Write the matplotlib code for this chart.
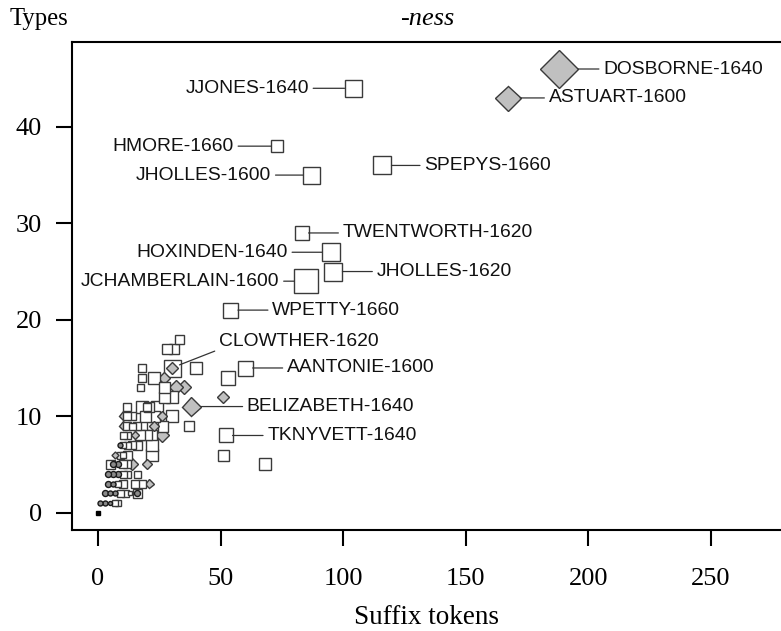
import numpy as np
import matplotlib
matplotlib.use("Agg")
import matplotlib.pyplot as plt

# labelled texts: suffix tokens, types, marker kind, marker width (px in source)
names = ["DOSBORNE-1640", "ASTUART-1600", "JJONES-1640", "HMORE-1660",
         "JHOLLES-1600", "SPEPYS-1660", "TWENTWORTH-1620", "HOXINDEN-1640",
         "JHOLLES-1620", "JCHAMBERLAIN-1600", "WPETTY-1660", "CLOWTHER-1620",
         "AANTONIE-1600", "BELIZABETH-1640", "TKNYVETT-1640"]
lab_tokens = [188, 167, 104, 73, 87, 116, 83, 95, 96, 85, 54, 30, 60, 38, 52]
lab_types = [46, 43, 44, 38, 35, 36, 29, 27, 25, 24, 21, 15, 15, 11, 8]
lab_kind = ["D", "D", "s", "s", "s", "s", "s", "s", "s", "s", "s", "s", "s", "D", "s"]
lab_size = [38, 25, 17, 12, 17, 18, 14, 18, 18, 24, 15, 17, 15, 19, 14]

# label offsets (points) from the marker
lab_dx = [31.7, 29.5, -31.7, -31, -28.8, 30, 29.5, -31, 31, -19.4, 30, 34, 30, 40, 30]
lab_dy = [0, 0, 0, 0, 0, 0, 0, 0, 0, 0, 0, 19.4, 0, 0, 0]

# unlabelled texts
tokens = [33, 28, 31, 40, 30, 18, 18, 17, 23, 27, 32, 35, 27, 27, 30, 53, 51,
          12, 18, 21, 24, 20,
          12, 14, 19, 23, 26, 30, 10,
          10, 12, 16, 22, 23, 26, 37, 14,
          10, 12, 17, 20, 22, 26, 15,
          9, 10, 12, 16, 22, 14,
          7, 9, 12, 22, 10, 51,
          5, 6, 8, 10, 12, 14, 20, 68,
          4, 6, 8, 10, 12, 16,
          4, 6, 8, 10, 15, 18, 21,
          3, 5, 7, 9, 11, 16, 16, 13,
          1, 3, 5, 7, 8,
          0]
types = [18, 17, 17, 15, 15, 15, 14, 13, 14, 14, 13, 13, 13, 12, 12, 14, 12,
         11, 11, 11, 11, 11,
         10, 10, 10, 10, 10, 10, 10,
         9, 9, 9, 9, 9, 9, 9, 9,
         8, 8, 8, 8, 8, 8, 8,
         7, 7, 7, 7, 7, 7,
         6, 6, 6, 6, 6, 6,
         5, 5, 5, 5, 5, 5, 5, 5,
         4, 4, 4, 4, 4, 4,
         3, 3, 3, 3, 3, 3, 3,
         2, 2, 2, 2, 2, 2, 2, 2,
         1, 1, 1, 1, 1,
         0]
kind = ["s", "s", "s", "s", "D", "s", "s", "s", "s", "D", "D", "D", "s", "s", "s", "s", "D",
        "s", "s", "s", "s", "s",
        "s", "s", "s", "s", "D", "s", "D",
        "D", "s", "s", "s", "D", "s", "s", "s",
        "s", "s", "s", "s", "s", "D", "D",
        "o", "s", "s", "s", "s", "s",
        "D", "s", "s", "s", "s", "s",
        "s", "o", "o", "s", "s", "D", "D", "s",
        "o", "o", "o", "s", "s", "s",
        "o", "o", "s", "s", "s", "s", "D",
        "o", "o", "o", "s", "s", "s", "o", "s",
        "o", "o", "o", "s", "s",
        "k"]
size = [9, 10, 10, 12, 13, 8, 8, 7, 12, 12, 14, 14, 11, 11, 12, 14, 13,
        8, 12, 10, 12, 8,
        8, 8, 11, 11, 10, 12, 9,
        9, 8, 8, 11, 10, 11, 10, 7,
        7, 7, 10, 10, 10, 14, 8,
        5, 6, 7, 9, 12, 8,
        7, 7, 9, 12, 6, 11,
        9, 6, 6, 8, 8, 12, 10, 12,
        6, 6, 6, 7, 7, 7,
        6, 5, 6, 8, 8, 8, 9,
        6, 5, 5, 7, 7, 9, 6, 5,
        5, 5, 4, 6, 6,
        5]

PX = 72 / 100.0  # px -> points at dpi 100
styles = {
    "s": dict(marker="s", mfc="white", mec="#3a3a3a", scale=1.0),
    "D": dict(marker="D", mfc="#c0c0c0", mec="#3a3a3a", scale=1 / np.sqrt(2)),
    "o": dict(marker="o", mfc="#8a8a8a", mec="#1a1a1a", scale=1.0),
    "k": dict(marker="s", mfc="black", mec="black", scale=1.0),
}

serif = "Liberation Serif"
sans = "Liberation Sans"

fig = plt.figure(figsize=(7.81, 6.31), dpi=100)
ax = fig.add_axes([72 / 781, 101 / 631, 709 / 781, 488 / 631])

all_x = tokens + lab_tokens
all_y = types + lab_types
all_k = kind + lab_kind
all_s = size + lab_size
order = np.argsort(all_s, kind="stable")[::-1]
for i in order:
    st = styles[all_k[i]]
    ax.plot(all_x[i], all_y[i], linestyle="none", marker=st["marker"],
            markersize=all_s[i] * PX * st["scale"], markerfacecolor=st["mfc"],
            markeredgecolor=st["mec"], markeredgewidth=1.0, zorder=3)

for n, x, y, k, s, dx, dy in zip(names, lab_tokens, lab_types, lab_kind,
                                 lab_size, lab_dx, lab_dy):
    half = s * PX / 2
    ax.annotate(n, (x, y), xytext=(dx, dy), textcoords="offset points",
                ha="left" if dx > 0 else "right", va="center",
                fontsize=13.9, family=sans, color="#111111",
                arrowprops=dict(arrowstyle="-", color="#333333", lw=0.9,
                                shrinkA=1, shrinkB=half,
                                relpos=(0, 0) if dy > 0 else (0.5, 0.5)))

ax.set_xlim(-10.6, 278.5)
ax.set_ylim(-1.8, 48.8)
ax.set_xticks([0, 50, 100, 150, 200, 250])
ax.set_yticks([0, 10, 20, 30, 40])
ax.spines["right"].set_visible(False)
for sp in ["left", "bottom", "top"]:
    ax.spines[sp].set_linewidth(1.5)
ax.tick_params(direction="out", length=11.5, width=1.5, labelsize=19)
ax.tick_params(axis="x", pad=16)
ax.tick_params(axis="y", pad=10)
for lbl in ax.get_xticklabels() + ax.get_yticklabels():
    lbl.set_family(serif)

ax.set_xlabel("Suffix tokens", family=serif, fontsize=19.5)
ax.xaxis.set_label_coords(0.5, -0.18)
ax.xaxis.label.set_va("center")

fig.text(10 / 781, 1 - 19 / 631, "Types", family=serif, fontsize=17.8,
         ha="left", va="center")
fig.text(427 / 781, 1 - 19 / 631, "-ness", family=serif, fontsize=19,
         style="italic", ha="center", va="center")

fig.savefig("out.png", dpi=100)
